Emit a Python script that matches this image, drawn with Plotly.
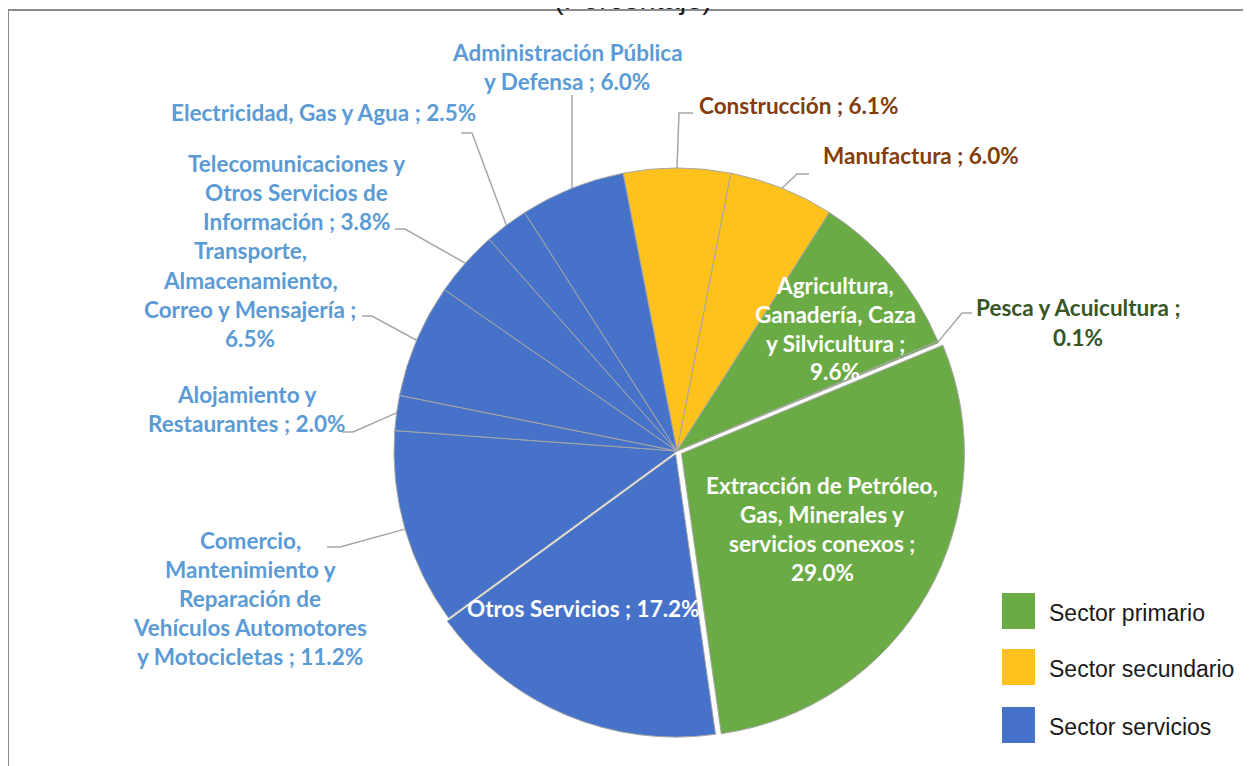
import math
import plotly.graph_objects as go

# ---------------- data ----------------
categories = [
    "Construcción",
    "Manufactura",
    "Agricultura,\nGanadería, Caza\ny Silvicultura",
    "Pesca y Acuicultura",
    "Extracción de Petróleo,\nGas, Minerales y\nservicios conexos",
    "Otros Servicios",
    "Comercio,\nMantenimiento y\nReparación de\nVehículos Automotores\ny Motocicletas",
    "Alojamiento y\nRestaurantes",
    "Transporte,\nAlmacenamiento,\nCorreo y Mensajería",
    "Telecomunicaciones y\nOtros Servicios de\nInformación",
    "Electricidad, Gas y Agua",
    "Administración Pública\ny Defensa",
]
values = [6.1, 6.0, 9.6, 0.1, 29.0, 17.2, 11.2, 2.0, 6.5, 3.8, 2.5, 6.0]
sectors = ["Sector secundario", "Sector secundario", "Sector primario", "Sector primario",
           "Sector primario", "Sector servicios", "Sector servicios", "Sector servicios",
           "Sector servicios", "Sector servicios", "Sector servicios", "Sector servicios"]
legend_names = ["Sector primario", "Sector secundario", "Sector servicios"]
pct_on_new_line = [False, False, True, True, True, False, False, False, True, False, False, False]
title_text = "(Porcentaje)"

# ---------------- style / layout ----------------
W, H = 1251, 766
OFF = 8  # page body margin
sector_colors = {"Sector primario": "#6BAB45", "Sector secundario": "#FFC21C", "Sector servicios": "#4673C9"}
outside_text_colors = {"Sector primario": "#375623", "Sector secundario": "#843C0C", "Sector servicios": "#5B9BD5"}
pull_map = {"Extracción de Petróleo,\nGas, Minerales y\nservicios conexos": 0.018, "Otros Servicios": 0.012}
inside = {2, 4, 5}
LABEL_FONT = "Lato"
LABEL_SIZE = 22.5
LINE_H = 29

CX, CY, R = 677.0, 451.0, 283.0
maxpull = max(pull_map.values())
half = R * (1 + maxpull)


def px(x):
    return (x - OFF) / W


def py(y):
    return 1 - (y - OFF) / H


# label placement: (anchor x, anchor mode, block centre y, leader elbow, leader end)
label_layout = [
    (697, "left", 105, (679, 113), (693, 113)),
    (821, "left", 156, (797, 174), (809, 174)),
    (835, "center", 328.5, None, None),
    (1078, "center", 322.5, (962, 313), (972, 313)),
    (822, "center", 529, None, None),
    (583, "center", 608, None, None),
    (250, "center", 598.5, (340, 547), (327, 547)),
    (246, "center", 408.5, (353, 432), (342, 432)),
    (250, "center", 294.5, (372, 316), (362, 316)),
    (296, "center", 192.5, (405, 229), (395, 229)),
    (323, "center", 113, (472, 133), (461, 133)),
    (567, "center", 67, (572, 95), (572, 95)),
]

total = sum(values)
rotation = -values[0] / total * 360 / 2

fig = go.Figure()
fig.add_trace(go.Pie(
    values=values,
    labels=[c.replace("\n", " ") for c in categories],
    sort=False,
    direction="clockwise",
    rotation=rotation,
    marker=dict(colors=[sector_colors[s] for s in sectors], line=dict(color="#A6A6A6", width=1)),
    pull=[pull_map.get(c, 0) for c in categories],
    textinfo="none",
    hoverinfo="label+percent",
    showlegend=False,
    domain=dict(x=[px(CX - half), px(CX + half)], y=[py(CY + half), py(CY - half)]),
))

annotations = []
shapes = []

# frame
shapes.append(dict(type="rect", xref="paper", yref="paper", x0=px(8), x1=px(1270), y0=py(790), y1=py(10),
                   line=dict(color="#8C8C8C", width=2), fillcolor="rgba(0,0,0,0)", layer="below"))

cum = 0.0
for i, (cat, v, s) in enumerate(zip(categories, values, sectors)):
    mid = rotation + (cum + v / 2) / total * 360
    cum += v
    text = cat + " ;" + ("\n" if pct_on_new_line[i] else " ") + f"{v:.1f}%"
    lines = text.split("\n")
    ax, mode, cy, elbow, end = label_layout[i]
    color = "#FFFFFF" if i in inside else outside_text_colors[s]
    n = len(lines)
    for j, ln in enumerate(lines):
        yy = cy + (j - (n - 1) / 2) * LINE_H
        annotations.append(dict(
            x=px(ax), y=py(yy), xref="paper", yref="paper", text=ln, showarrow=False,
            xanchor=mode, yanchor="middle",
            font=dict(family=LABEL_FONT, size=LABEL_SIZE, color=color, weight="bold"),
        ))
    if elbow is not None:
        a = math.radians(mid)
        sx, sy = CX + R * math.sin(a), CY - R * math.cos(a)
        path = f"M {px(sx)},{py(sy)} L {px(elbow[0])},{py(elbow[1])} L {px(end[0])},{py(end[1])}"
        shapes.append(dict(type="path", xref="paper", yref="paper", path=path,
                           line=dict(color="#A6A6A6", width=1.5)))

# custom legend
leg_tops = [593, 649, 707]
for name, top in zip(legend_names, leg_tops):
    shapes.append(dict(type="rect", xref="paper", yref="paper",
                       x0=px(1002), x1=px(1035), y0=py(top + 36), y1=py(top),
                       fillcolor=sector_colors[name], line=dict(width=0)))
    annotations.append(dict(x=px(1047), y=py(top + 20), xref="paper", yref="paper", text=name,
                            showarrow=False, xanchor="left", yanchor="middle",
                            font=dict(family="Liberation Sans", size=23, color="#1A1A1A")))

# title (cut off at top)
annotations.append(dict(x=px(633), y=py(-1), xref="paper", yref="paper", text=title_text,
                        showarrow=False, xanchor="center", yanchor="middle",
                        font=dict(family="Liberation Sans", size=29, color="#1A1A1A")))

fig.update_layout(
    width=W, height=H,
    margin=dict(l=0, r=0, t=0, b=0),
    paper_bgcolor="white",
    plot_bgcolor="white",
    annotations=annotations,
    shapes=shapes,
)

fig.write_html("out.html")
